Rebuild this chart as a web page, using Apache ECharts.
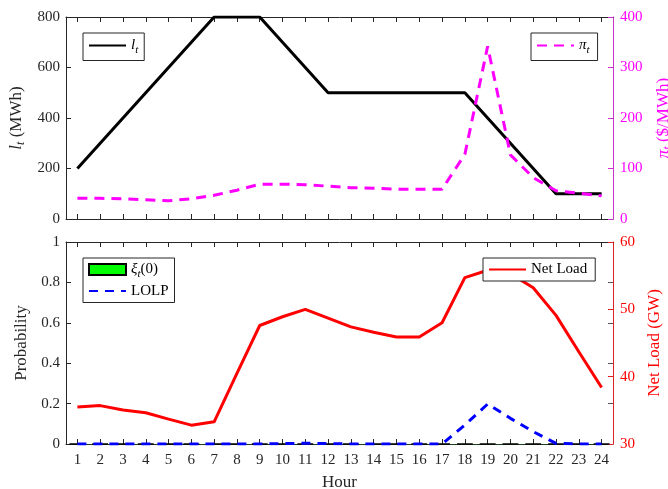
<!DOCTYPE html>
<html><head><meta charset="utf-8">
<script src="https://cdn.jsdelivr.net/npm/echarts@6/dist/echarts.min.js"></script>
<style>html,body{margin:0;padding:0;background:#fff;overflow:hidden}#c{width:668px;height:489px}</style>
</head><body><div id="c"></div>
<script>
const hours = ['1','2','3','4','5','6','7','8','9','10','11','12','13','14','15','16','17','18','19','20','21','22','23','24'];
const storage = [200,300,400,500,600,700,800,800,800,700,600,500,500,500,500,500,500,500,400,300,200,100,100,100];
const price = [41,41,40,38,36,40,47,57,69,69,68,65,62,61,59,59,59,128,342,127,82,56,51,46];
const xiZero = [0,0,0,0,0,0,0,0,0,0,0,0,0,0,0,0,0,0,0,0,0,0,0,0];
const lolp = [0,0,0,0,0,0,0,0,0,0.002,0.004,0.002,0,0,0,0,0,0.094,0.198,0.127,0.061,0.003,0,0];
const netLoad = [35.5,35.7,35.05,34.65,33.7,32.8,33.3,40.5,47.6,48.9,50.0,48.7,47.4,46.6,45.9,45.9,48.0,54.7,55.8,55.3,53.2,49.1,43.7,38.4];

const FONT = 'Liberation Serif';
const AX = '#262626';
const MAG = '#ff00ff';
const RED = '#ff0000';
const rich = (c, fs) => ({
  i: {fontFamily: FONT, fontStyle: 'italic', fontSize: fs, color: c},
  s: {fontFamily: FONT, fontStyle: 'italic', fontSize: Math.round(fs*0.7), color: c, padding: [9,0,0,0]},
  n: {fontFamily: FONT, fontSize: fs, color: c}
});
const tick = (c) => ({show: true, inside: true, length: 5, alignWithLabel: true, lineStyle: {color: c}});
const xCat = (grid, pos, labels, lineColor) => ({
  type: 'category', gridIndex: grid, position: pos, data: hours, boundaryGap: true,
  axisLine: {onZero: false, lineStyle: {color: lineColor || AX}}, axisTick: tick(AX),
  axisLabel: {show: labels, fontFamily: FONT, fontSize: 15, color: AX, margin: 9, interval: 0},
  splitLine: {show: false}
});
const noSym = {opacity: 0};
const chart = echarts.init(document.getElementById('c'));
chart.setOption({
  animation: false,
  backgroundColor: '#fff',
  grid: [
    {left: 66, right: 55, top: 17, height: 202, outerBoundsMode: 'none', containLabel: false},
    {left: 66, right: 55, top: 242, height: 202, outerBoundsMode: 'none', containLabel: false}
  ],
  xAxis: [
    xCat(0, 'bottom', false),
    xCat(0, 'top', false),
    Object.assign(xCat(1, 'bottom', true, '#1c3f1c'), {name: 'Hour', nameLocation: 'middle', nameGap: 30,
      nameTextStyle: {fontFamily: FONT, fontSize: 17, color: AX}}),
    xCat(1, 'top', false)
  ],
  yAxis: [
    {type: 'value', gridIndex: 0, position: 'left', min: 0, max: 800, interval: 200,
      axisLine: {show: true, onZero: false, lineStyle: {color: AX}}, axisTick: tick(AX),
      axisLabel: {fontFamily: FONT, fontSize: 15, color: AX, margin: 6},
      splitLine: {show: false},
      name: '{i|l}{s|t}{n| (MWh)}', nameLocation: 'middle', nameGap: 34,
      nameTextStyle: {rich: rich(AX, 17)}},
    {type: 'value', gridIndex: 0, position: 'right', min: 0, max: 400, interval: 100,
      axisLine: {show: true, onZero: false, lineStyle: {color: '#cc33cc'}}, axisTick: tick('#cc33cc'),
      axisLabel: {fontFamily: FONT, fontSize: 15, color: MAG, margin: 7},
      splitLine: {show: false},
      name: '{i|π}{s|t}{n| ($/MWh)}', nameLocation: 'middle', nameGap: 40,
      nameTextStyle: {rich: rich(MAG, 17)}},
    {type: 'value', gridIndex: 1, position: 'left', min: 0, max: 1, interval: 0.2,
      axisLine: {show: true, onZero: false, lineStyle: {color: AX}}, axisTick: tick(AX),
      axisLabel: {fontFamily: FONT, fontSize: 15, color: AX, margin: 6},
      splitLine: {show: false},
      name: 'Probability', nameLocation: 'middle', nameGap: 35,
      nameTextStyle: {fontFamily: FONT, fontSize: 17, color: AX}},
    {type: 'value', gridIndex: 1, position: 'right', min: 0, max: 1, interval: 0.2,
      axisLine: {show: false}, axisTick: tick('#555'), axisLabel: {show: false},
      splitLine: {show: false}},
    {type: 'value', gridIndex: 1, position: 'right', min: 30, max: 60, interval: 10,
      axisLine: {show: true, onZero: false, lineStyle: {color: '#dd2222'}}, axisTick: tick('#dd2222'),
      axisLabel: {fontFamily: FONT, fontSize: 15, color: RED, margin: 7},
      splitLine: {show: false},
      name: 'Net Load (GW)', nameLocation: 'middle', nameGap: 32,
      nameTextStyle: {fontFamily: FONT, fontSize: 17, color: RED}}
  ],
  legend: [
    {data: ['lt'], left: 83, top: 33, orient: 'vertical', padding: [5,6,5,5], z: 10,
      borderColor: AX, borderWidth: 1, backgroundColor: '#fff', itemWidth: 37, itemHeight: 14,
      itemStyle: noSym,
      formatter: () => '{i|l}{s|t}', textStyle: {rich: rich('#000', 15)}},
    {data: ['pi'], left: 531, top: 33, orient: 'vertical', padding: [5,8,5,5], z: 10,
      borderColor: AX, borderWidth: 1, backgroundColor: '#fff', itemWidth: 37, itemHeight: 14,
      itemStyle: noSym,
      formatter: () => '{i|π}{s|t}', textStyle: {rich: rich('#000', 15)}},
    {data: [{name: 'xi', icon: 'rect'}, {name: 'LOLP', itemStyle: noSym}], left: 83, top: 258, orient: 'vertical',
      padding: [4,6,4,5], itemGap: 4, z: 10,
      borderColor: AX, borderWidth: 1, backgroundColor: '#fff', itemWidth: 37, itemHeight: 11,
      formatter: (n) => n === 'xi' ? '{i|ξ}{s|t}{n|(0)}' : '{n|LOLP}', textStyle: {rich: rich('#000', 15)}},
    {data: ['Net Load'], left: 483, top: 258, orient: 'vertical', padding: [4,8,4,5], z: 10,
      borderColor: AX, borderWidth: 1, backgroundColor: '#fff', itemWidth: 37, itemHeight: 14,
      itemStyle: noSym,
      textStyle: {fontFamily: FONT, fontSize: 15, color: '#000'}}
  ],
  series: [
    {name: 'lt', type: 'line', xAxisIndex: 0, yAxisIndex: 0, data: storage, symbol: 'none',
      lineStyle: {color: '#000', width: 3}, itemStyle: {color: '#000'}},
    {name: 'pi', type: 'line', xAxisIndex: 0, yAxisIndex: 1, data: price, symbol: 'none',
      lineStyle: {color: MAG, width: 3, type: [10, 7]}, itemStyle: {color: MAG}},
    {name: 'xi', type: 'bar', xAxisIndex: 2, yAxisIndex: 2, data: xiZero,
      itemStyle: {color: '#00ff00', borderColor: '#000', borderWidth: 1}},
    {name: 'Net Load', type: 'line', xAxisIndex: 2, yAxisIndex: 4, data: netLoad, symbol: 'none',
      lineStyle: {color: RED, width: 3}, itemStyle: {color: RED}},
    {name: 'LOLP', type: 'line', xAxisIndex: 2, yAxisIndex: 2, data: lolp, symbol: 'none', z: 5,
      lineStyle: {color: '#0000ff', width: 3, type: [9, 7]}, itemStyle: {color: '#0000ff'}}
  ]
});
</script></body></html>
